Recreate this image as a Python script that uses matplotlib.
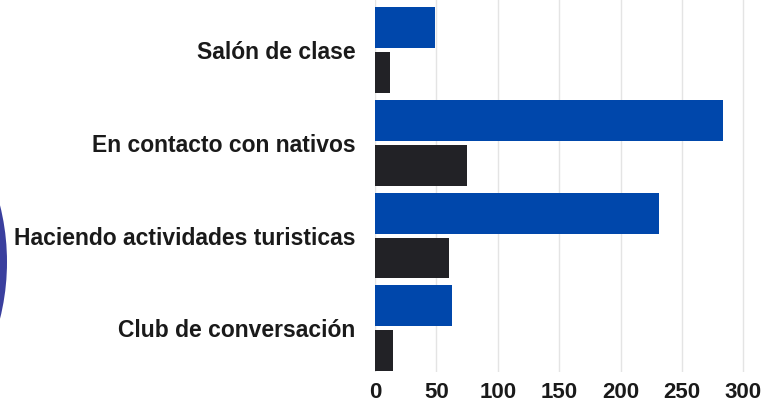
import numpy as np
import matplotlib
matplotlib.use('Agg')
import matplotlib.pyplot as plt
from matplotlib.patches import Ellipse

#-- categories and the two series (top to bottom)
categories = ['Salón de clase', 'En contacto con nativos',
              'Haciendo actividades turisticas', 'Club de conversación']
serie_azul = [49, 283, 231, 63]
serie_negra = [12, 75, 60, 15]
xticks = [0, 50, 100, 150, 200, 250, 300]

plt.rcParams['font.family'] = ['Liberation Sans', 'DejaVu Sans']

W, H = 776, 405
fig = plt.figure(figsize=(W/100., H/100.), dpi=100)
fig.patch.set_facecolor('white')

#-- decorative disc cut by the left border
disc = Ellipse((-228./W, 1 - 262./H), 470./W, 470./H, transform=fig.transFigure,
               facecolor='#3a3f9e', edgecolor='none', zorder=0)
fig.patches.append(disc)

ax = fig.add_axes([375./W, 33./H, 1 - 375./W, 1 - 33./H])
ax.set_facecolor('none')

y = np.arange(len(categories))
h = 0.44
off = 0.242
ax.barh(y - off, serie_azul, height=h, color='#0047ab', zorder=3)
ax.barh(y + off, serie_negra, height=h, color='#222226', zorder=3)

ax.set_xlim(0, (W - 375)/1.228)
ax.set_ylim(3.47, -0.538)
ax.set_xticks(xticks)
ax.set_xticklabels([str(t) for t in xticks], fontsize=16, fontweight='bold')
ax.set_yticks(y)
ax.set_yticklabels(categories, fontsize=16.5, fontweight='bold')
ax.tick_params(axis='y', length=0, pad=14, labelcolor='#1a1a1a')
ax.tick_params(axis='x', length=0, pad=7, labelcolor='#1a1a1a')
ax.grid(axis='x', color='#e4e4e4', linewidth=1, zorder=0)
for s in ax.spines.values():
    s.set_visible(False)

fig.savefig('out.png', dpi=100, facecolor='white')
